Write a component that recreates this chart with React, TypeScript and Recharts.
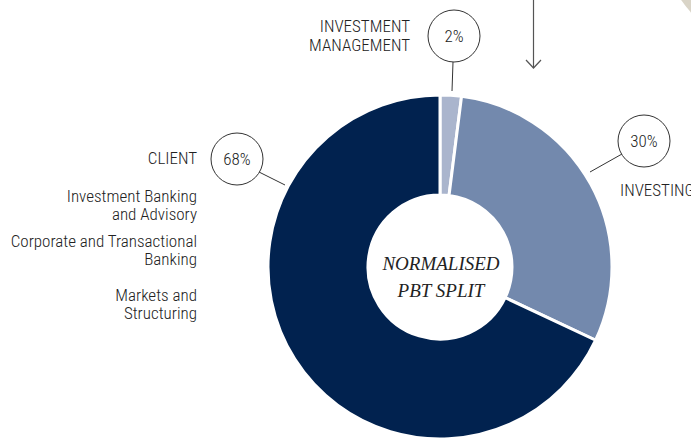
import { Cell, Customized, Pie, PieChart } from 'recharts'

const segments = ['Investment Management', 'Investing', 'Client']
const shares = [2, 30, 68]
const colors = ['#aab5cd', '#7389ad', '#01224f']
const shareLabels = ['2%', '30%', '68%']
const clientLines = [
  ['Investment Banking', 'and Advisory'],
  ['Corporate and Transactional', 'Banking'],
  ['Markets and', 'Structuring']
]

const data = segments.map((name, i) => ({ name, value: shares[i] }))

const sans = '"Roboto Condensed", "Liberation Sans Narrow", "Liberation Sans", Arial, sans-serif'
const serif = '"Liberation Serif", "DejaVu Serif", serif'
const ink = '#222'

const Callout = ({ x, y, text }: { x: number; y: number; text: string }) => (
  <g>
    <circle cx={x} cy={y} r={26} fill="#fff" stroke="#333" strokeWidth={1} />
    <text x={x} y={y + 6} textAnchor="middle" fontFamily={sans} fontSize={17} fontWeight={300} fill={ink}>
      {text}
    </text>
  </g>
)

const Label = ({ x, y, anchor = 'end', children }: { x: number; y: number; anchor?: string; children: string }) => (
  <text x={x} y={y} textAnchor={anchor} fontFamily={sans} fontSize={17} fontWeight={300} fill={ink}>
    {children}
  </text>
)

function Annotations() {
  return (
    <g>
      {/* decorative corner disc and arrow */}
      <circle cx={772} cy={-62} r={110} fill="#d9d4c7" />
      <line x1={533.5} y1={0} x2={533.5} y2={68} stroke="#555" strokeWidth={1.2} />
      <polyline points="526,60 533.5,68 541,60" fill="none" stroke="#555" strokeWidth={1.2} />

      {/* investment management */}
      <Label x={410} y={32}>INVESTMENT</Label>
      <Label x={410} y={51}>MANAGEMENT</Label>
      <line x1={453} y1={62} x2={452} y2={91} stroke="#333" strokeWidth={1} />
      <Callout x={454} y={36} text={shareLabels[0]} />

      {/* investing */}
      <line x1={622} y1={154} x2={590} y2={172} stroke="#333" strokeWidth={1} />
      <Callout x={644} y={141} text={shareLabels[1]} />
      <Label x={620} y={196} anchor="start">INVESTING</Label>

      {/* client */}
      <line x1={259} y1={172} x2={285} y2={185} stroke="#333" strokeWidth={1} />
      <Callout x={237} y={159} text={shareLabels[2]} />
      <Label x={197} y={164}>CLIENT</Label>
      {clientLines.map((lines, i) => (
        <g key={i}>
          {lines.map((t, j) => (
            <Label key={j} x={197} y={[202, 247, 301][i] + j * 18}>
              {t}
            </Label>
          ))}
        </g>
      ))}

      {/* centre title */}
      <text x={441} y={270} textAnchor="middle" fontFamily={serif} fontStyle="italic" fontSize={19} fill="#222">
        NORMALISED
      </text>
      <text x={441} y={297} textAnchor="middle" fontFamily={serif} fontStyle="italic" fontSize={19} fill="#222">
        PBT SPLIT
      </text>
    </g>
  )
}

export default function App() {
  return (
    <div style={{ position: 'fixed', top: 0, left: 0, width: 691, height: 440, background: '#fff', overflow: 'hidden' }}>
      <PieChart width={691} height={440} margin={{ top: 0, right: 0, bottom: 0, left: 0 }}>
        <Pie
          data={data}
          dataKey="value"
          nameKey="name"
          cx={440}
          cy={267}
          outerRadius={172}
          innerRadius={72}
          startAngle={90}
          endAngle={-270}
          stroke="#fff"
          strokeWidth={3}
          isAnimationActive={false}
        >
          {data.map((d, i) => (
            <Cell key={d.name} fill={colors[i]} />
          ))}
        </Pie>
        <Customized component={Annotations} />
      </PieChart>
    </div>
  )
}
